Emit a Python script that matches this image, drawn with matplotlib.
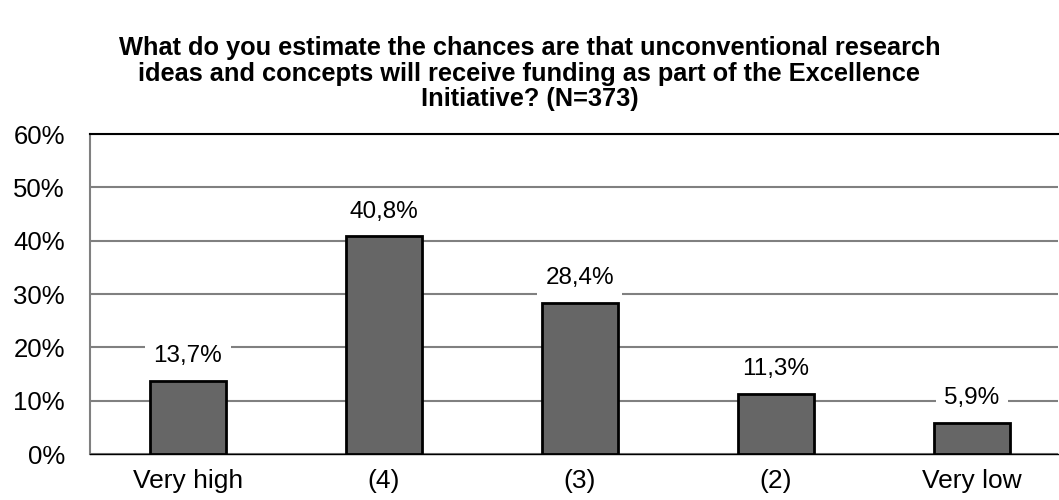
import matplotlib.pyplot as plt

categories = ['Very high', '(4)', '(3)', '(2)', 'Very low']
values = [13.7, 40.8, 28.4, 11.3, 5.9]
labels = ['13,7%', '40,8%', '28,4%', '11,3%', '5,9%']
yticks = [0, 10, 20, 30, 40, 50, 60]

plt.rcParams['font.family'] = ['Liberation Sans', 'DejaVu Sans']

fig = plt.figure(figsize=(10.59, 5), dpi=100)
ax = fig.add_axes([90 / 1059, 1 - 454 / 500, 968 / 1059, 320 / 500])

x = list(range(len(categories)))
ax.bar(x, values, width=0.39, color='#666666', edgecolor='black', linewidth=2, zorder=3)

for xi, v, lab in zip(x, values, labels):
    ax.text(xi, v + 4.6, lab, ha='center', va='center', fontsize=17.5,
            bbox=dict(facecolor='white', edgecolor='none', pad=6), zorder=4)

ax.set_xlim(-0.5, 4.44)
ax.set_ylim(0, 60)
ax.set_yticks(yticks)
ax.set_yticklabels([f'{t}%' for t in yticks], fontsize=18.5)
ax.set_xticks(x)
ax.set_xticklabels(categories, fontsize=19)
ax.tick_params(axis='y', length=0, pad=18)
ax.tick_params(axis='x', length=0, pad=11)
ax.yaxis.grid(True, color='#808080', linewidth=1.5, zorder=0)

ax.spines['right'].set_visible(False)
ax.spines['top'].set_color('black')
ax.spines['top'].set_linewidth(1.5)
ax.spines['left'].set_color('#808080')
ax.spines['left'].set_linewidth(1.5)
ax.spines['bottom'].set_color('black')
ax.spines['bottom'].set_linewidth(1)

fig.text(0.5, 0.853, 'What do you estimate the chances are that unconventional research\n'
         'ideas and concepts will receive funding as part of the Excellence\n'
         'Initiative? (N=373)', ha='center', va='center', fontsize=18.3,
         fontweight='bold', linespacing=1.1)

fig.savefig('out.png', dpi=100)
